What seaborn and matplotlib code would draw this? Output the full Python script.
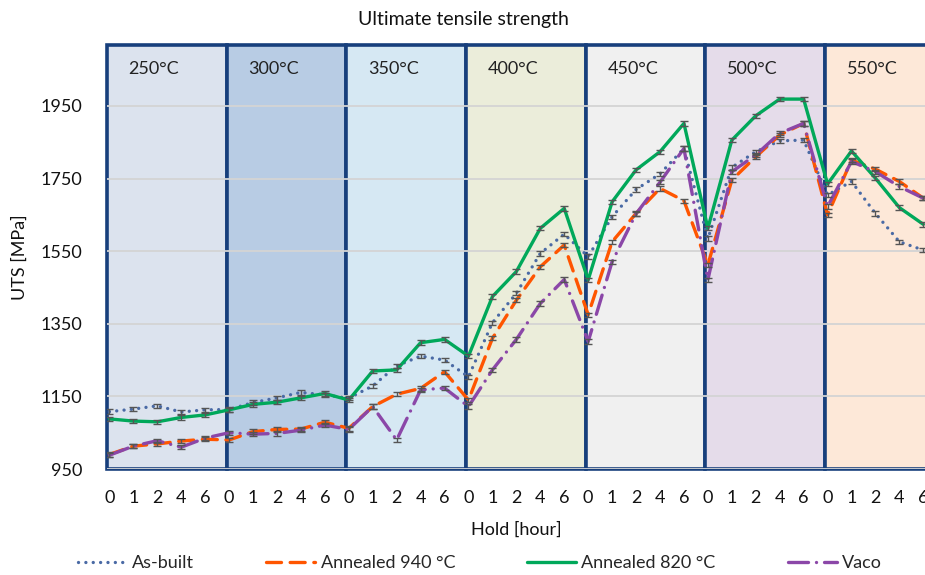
import numpy as np
import pandas as pd
import seaborn as sns
import matplotlib.pyplot as plt

# temperature groups and hold times (hours)
temps = ['250°C', '300°C', '350°C', '400°C', '450°C', '500°C', '550°C']
holds = ['0', '1', '2', '4', '6']
box_colors = ['#DCE3EE', '#B8CCE4', '#D6E8F3', '#EBEDDA', '#F0F0F0', '#E5DCEA', '#FDE8D8']

as_built = [1108, 1115, 1124, 1107, 1113,
            1114, 1133, 1146, 1161, 1154,
            1145, 1179, 1234, 1261, 1250,
            1204, 1353, 1434, 1544, 1597,
            1535, 1645, 1720, 1763, 1833,
            1585, 1781, 1824, 1854, 1856,
            1705, 1742, 1654, 1576, 1553]
annealed_940 = [990, 1013, 1019, 1027, 1032,
                1030, 1053, 1059, 1060, 1079,
                1062, 1122, 1156, 1172, 1218,
                1140, 1310, 1415, 1507, 1567,
                1375, 1576, 1654, 1723, 1689,
                1512, 1746, 1810, 1870, 1902,
                1650, 1801, 1776, 1742, 1696]
annealed_820 = [1088, 1082, 1080, 1092, 1099,
                1113, 1128, 1134, 1146, 1158,
                1140, 1220, 1223, 1298, 1307,
                1261, 1425, 1494, 1613, 1668,
                1471, 1686, 1774, 1824, 1902,
                1613, 1856, 1923, 1969, 1969,
                1735, 1826, 1751, 1670, 1624]
vaco = [988, 1013, 1028, 1010, 1035,
        1050, 1046, 1048, 1057, 1071,
        1059, 1122, 1030, 1168, 1173,
        1122, 1223, 1307, 1406, 1472,
        1301, 1521, 1653, 1740, 1833,
        1471, 1769, 1815, 1875, 1902,
        1673, 1797, 1769, 1728, 1696]

series = {
    'As-built': as_built,
    'Annealed 940 °C': annealed_940,
    'Annealed 820 °C': annealed_820,
    'Vaco': vaco,
}
palette = {
    'As-built': '#4A6AA5',
    'Annealed 940 °C': '#FF5500',
    'Annealed 820 °C': '#00A85A',
    'Vaco': '#8B47A8',
}
dashes = {
    'As-built': (0.01, 2.2),
    'Annealed 940 °C': (4.5, 2.6),
    'Annealed 820 °C': '',
    'Vaco': (6, 2.4, 0.01, 2.4),
}

n = len(temps) * len(holds)
idx = np.arange(n)
df = pd.concat([pd.DataFrame({'idx': idx, 'UTS': v, 'series': k}) for k, v in series.items()])

sns.set_theme(style='white')
plt.rcParams['font.family'] = ['Lato', 'DejaVu Sans']

fig = plt.figure(figsize=(9.25, 5.75), dpi=100)
ax = fig.add_axes([107 / 925, 1 - 469 / 575, 1 - 107 / 925, 424 / 575])

ymin, ymax = 950, 2118
ax.set_xlim(-0.1, 34.07)
ax.set_ylim(ymin, ymax)

# background boxes for every temperature
starts = np.arange(len(temps)) * len(holds) - 0.1
ax.bar(starts, ymax - ymin, bottom=ymin, width=len(holds), align='edge',
       color=box_colors, edgecolor='#173F7C', linewidth=2.6, zorder=0.2, clip_on=False)
for s, t in zip(starts, temps):
    ax.text(s + 0.9, 0.943, t, transform=ax.get_xaxis_transform(),
            fontsize=13, va='center', ha='left', color='#222222')

ax.set_axisbelow(True)
ax.yaxis.grid(True, color='#D4D4D4', linewidth=1.3)
ax.xaxis.grid(False)

sns.lineplot(data=df, x='idx', y='UTS', hue='series', style='series',
             hue_order=list(series), style_order=list(series),
             palette=palette, dashes=dashes, linewidth=2.4,
             dash_capstyle='round', ax=ax, zorder=2)

for k, v in series.items():
    ax.errorbar(idx, v, yerr=6, fmt='none', ecolor='#555555',
                elinewidth=1, capsize=3, capthick=1, zorder=3)

ax.set_xticks(idx)
ax.set_xticklabels(holds * len(temps))
ax.set_yticks(np.arange(950, 1951, 200))
ax.tick_params(axis='x', length=0, pad=15, labelsize=13, colors='#111111')
ax.tick_params(axis='y', length=0, pad=18, labelsize=13, colors='#111111')
for sp in ax.spines.values():
    sp.set_visible(False)
ax.set_xlabel('')
ax.set_ylabel('')

fig.text(463 / 925, 1 - 20 / 575, 'Ultimate tensile strength', ha='center', va='center',
         fontsize=14, color='#111111')
fig.text(20 / 925, 1 - 257 / 575, 'UTS [MPa]', rotation=90, ha='center', va='center',
         fontsize=13, color='#111111')
fig.text(516 / 925, 1 - 530 / 575, 'Hold [hour]', ha='center', va='center',
         fontsize=13, color='#111111')

handles, labels = ax.get_legend_handles_labels()
ax.legend_.remove()
fig.legend(handles, labels, loc='center', bbox_to_anchor=(480 / 925, 1 - 563 / 575),
           ncol=4, frameon=False, fontsize=13, handlelength=2.7,
           handletextpad=0.3, columnspacing=4.0)

fig.savefig('out.png', dpi=100)
